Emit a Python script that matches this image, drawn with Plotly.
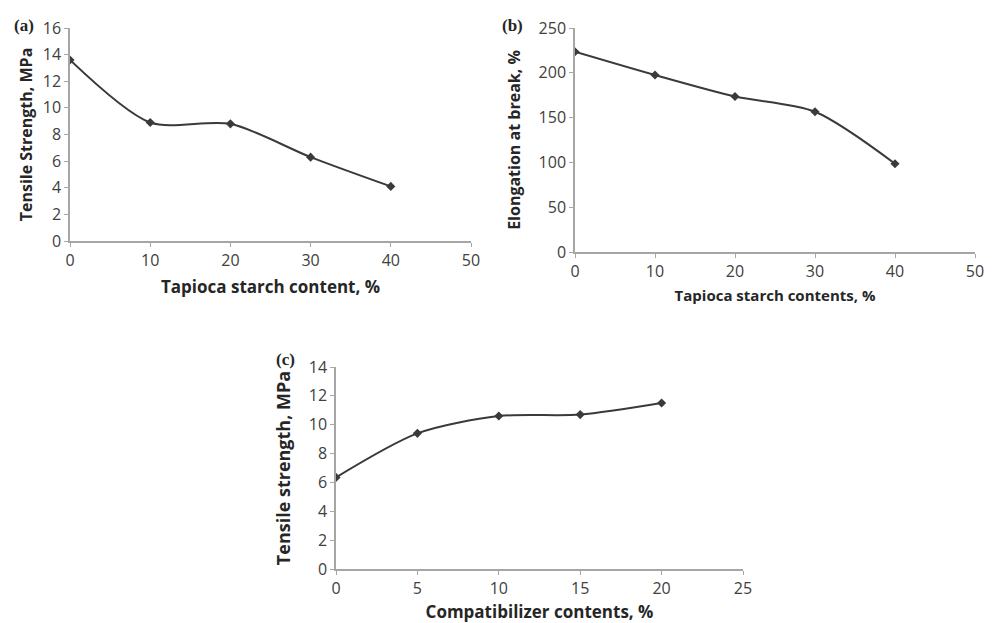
import plotly.graph_objects as go

# Data
xa = [0, 10, 20, 30, 40]
ya = [13.6, 8.9, 8.8, 6.3, 4.1]
xb = [0, 10, 20, 30, 40]
yb = [223.5, 197.5, 173.5, 156.5, 98.5]
xc = [0, 5, 10, 15, 20]
yc = [6.35, 9.4, 10.6, 10.7, 11.5]

W, H = 993, 623

def px_dom_x(a, b):
    return [a / W, b / W]

def px_dom_y(top, bottom):
    return [(H - bottom) / H, (H - top) / H]

fig = go.Figure()
line_style = dict(color="#3a3a3a", width=2, shape="spline", smoothing=0.8)
mk = dict(symbol="diamond", size=7, color="#3a3a3a")
fig.add_trace(go.Scatter(x=xa, y=ya, mode="lines+markers", line=line_style, marker=mk, xaxis="x", yaxis="y"))
fig.add_trace(go.Scatter(x=xb, y=yb, mode="lines+markers", line=line_style, marker=mk, xaxis="x2", yaxis="y2"))
fig.add_trace(go.Scatter(x=xc, y=yc, mode="lines+markers", line=line_style, marker=mk, xaxis="x3", yaxis="y3"))

def font(size, color, bold=False):
    d = dict(family="Open Sans", size=size, color=color)
    if bold:
        d["weight"] = "bold"
    return d

def ax(dom, anchor, rng, dt, title, tf, ttf, standoff):
    return dict(domain=dom, anchor=anchor, range=rng, dtick=dt, showgrid=False, zeroline=False,
                automargin=False, showline=True, linecolor="#a6a6a6", linewidth=1.5,
                ticks="outside", ticklen=4, tickcolor="#a6a6a6", tickfont=tf,
                title=dict(text=title, font=ttf, standoff=standoff))

tick_ab = font(16, "#404040")
tick_c = font(16, "#404040")

fig.update_layout(
    width=W, height=H, margin=dict(l=0, r=0, t=0, b=0),
    paper_bgcolor="white", plot_bgcolor="white", showlegend=False,
    xaxis=ax(px_dom_x(70, 471), "y", [0, 50], 10, "Tapioca starch content, %",
             tick_ab, font(17, "#262626", True), 11),
    yaxis=ax(px_dom_y(28, 241), "x", [0, 16], 2, "Tensile Strength, MPa",
             tick_ab, font(16, "#262626", True), 6),
    xaxis2=ax(px_dom_x(575, 975), "y2", [0, 50], 10, "Tapioca starch contents, %",
              tick_ab, font(15, "#262626", True), 10),
    yaxis2=ax(px_dom_y(28, 252), "x2", [0, 250], 50, "Elongation at break, %",
              tick_ab, font(16, "#262626", True), 14),
    xaxis3=ax(px_dom_x(336, 743), "y3", [0, 25], 5, "Compatibilizer contents, %",
              tick_c, font(17, "#262626", True), 9),
    yaxis3=ax(px_dom_y(367, 569), "x3", [0, 14], 2, "Tensile strength, MPa",
              tick_c, font(18, "#262626", True), 13),
)

lab = dict(family="Liberation Serif", size=17, color="#262626", weight="bold")
for txt, x, y in [("(a)", 24, 25), ("(b)", 512, 25), ("(c)", 285, 359)]:
    fig.add_annotation(text=txt, x=x / W, y=1 - y / H, xref="paper", yref="paper",
                       showarrow=False, font=lab, xanchor="center", yanchor="middle")

fig.write_html("out.html", config={"displayModeBar": False},
               post_script="document.body.style.margin='0';document.body.style.padding='0';")
